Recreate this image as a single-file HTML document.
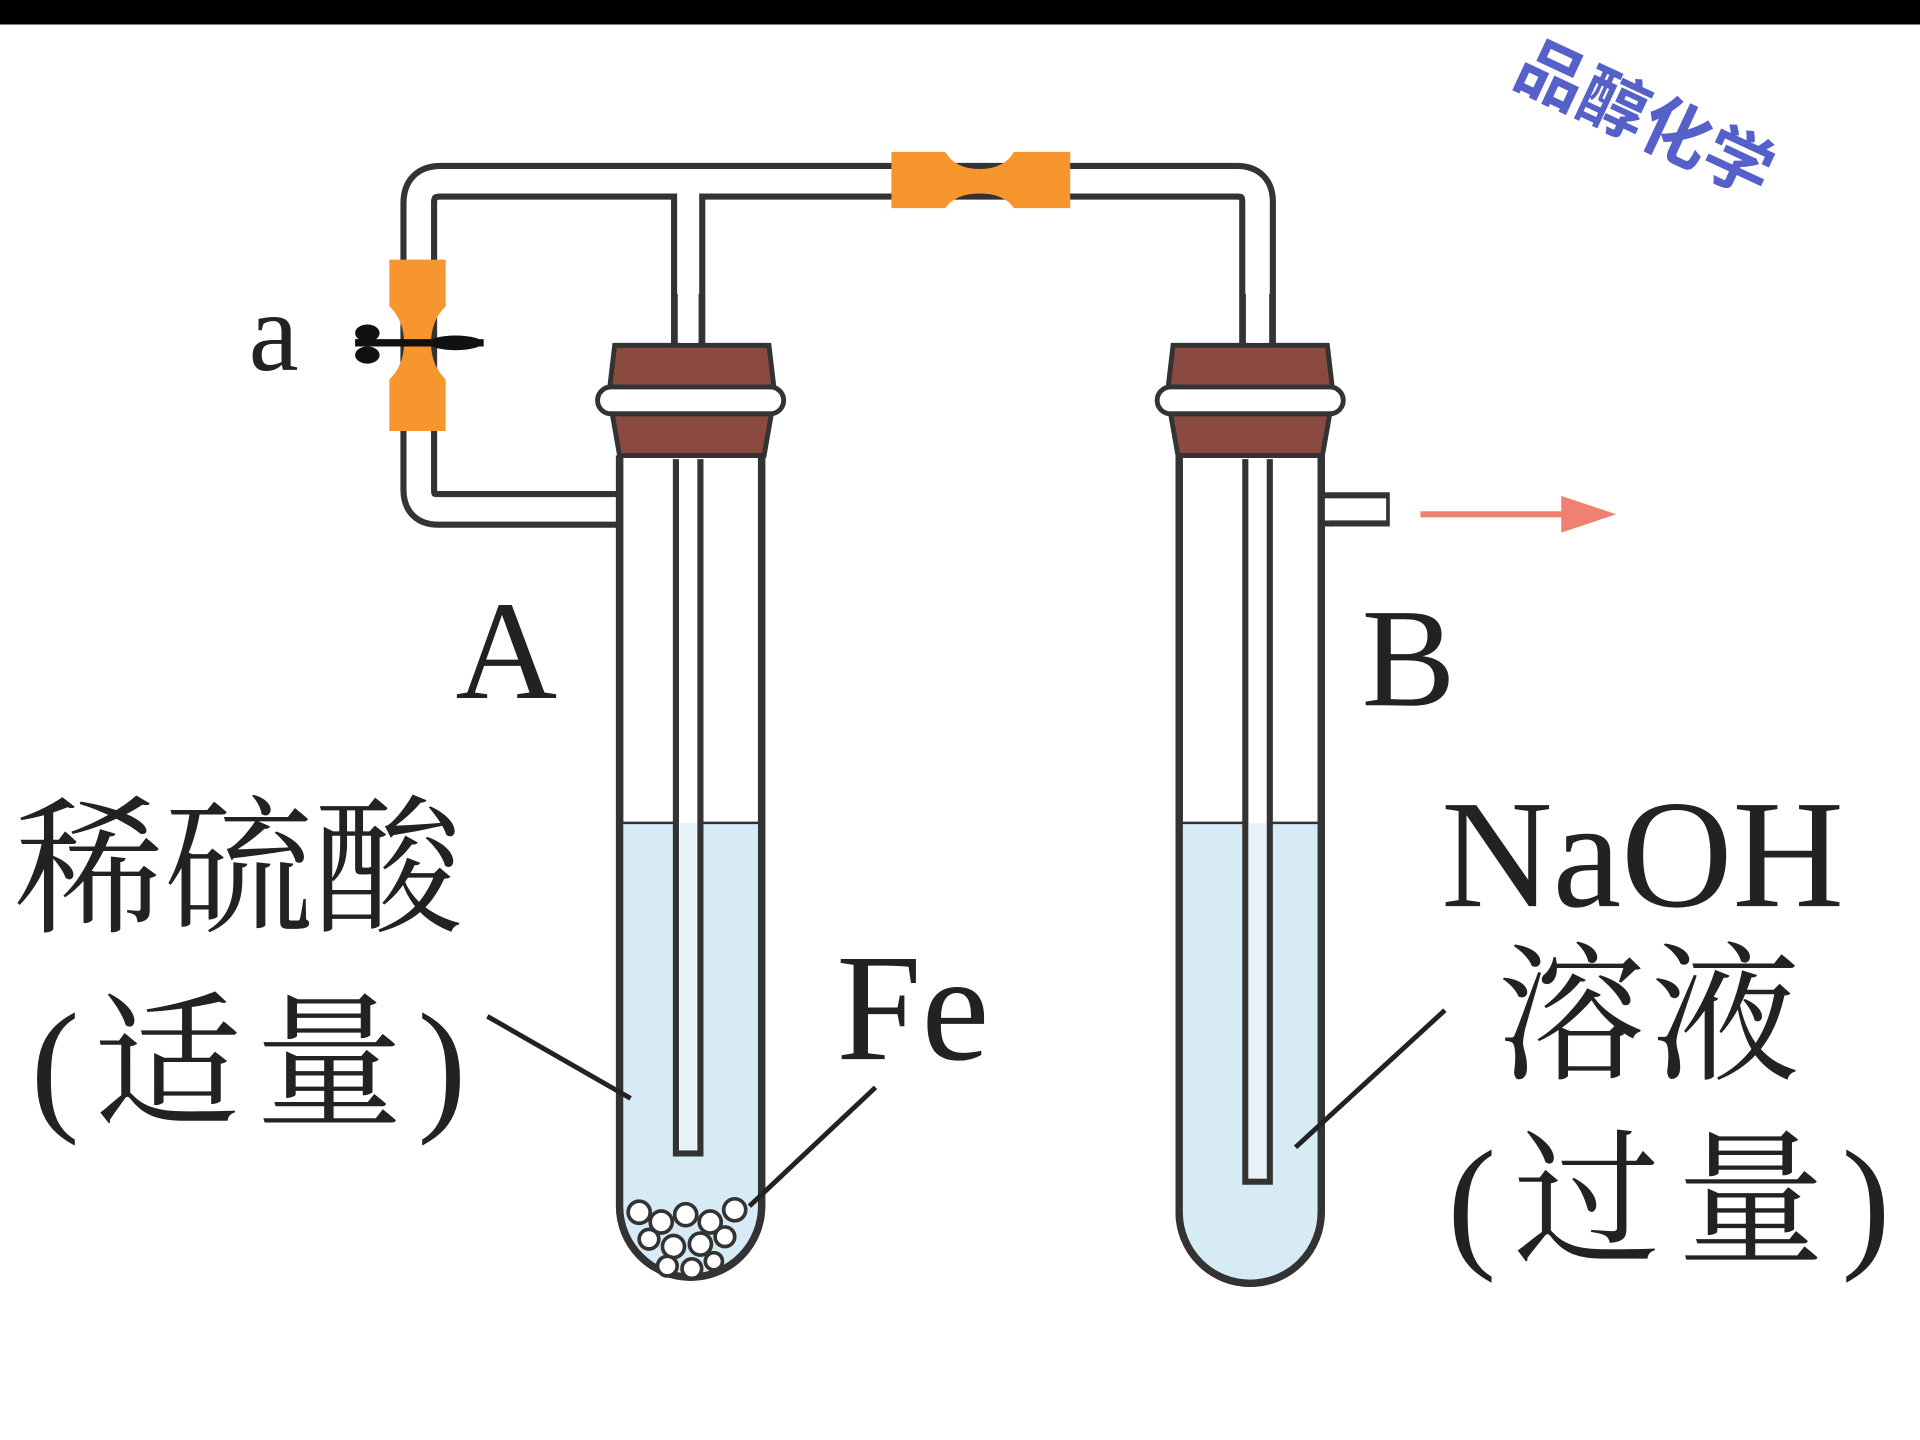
<!DOCTYPE html>
<html><head><meta charset="utf-8"><style>
html,body{margin:0;padding:0;background:#fff;}
svg{display:block;width:1920px;height:1440px;}
.t{font-family:"Liberation Serif","Noto Serif CJK SC",serif;fill:#222;}
.c{font-family:"Liberation Serif","Noto Serif CJK SC","Noto Sans CJK SC",serif;fill:#222;}
</style></head><body>
<svg viewBox="0 0 1568 1176" preserveAspectRatio="none" xmlns="http://www.w3.org/2000/svg">
<rect x="0" y="0" width="1568" height="20" fill="#000"/>
<g fill="none" stroke-linejoin="round" stroke-linecap="butt">
 <path d="M1027 965 L1027 165 Q1027 148 1010 148 L360 148 Q342 148 342 166 L342 400 Q342 416 358 416 L510 416" stroke="#333" stroke-width="30"/>
 <path d="M562 148 L562 942" stroke="#333" stroke-width="28"/>
 <path d="M1027 965 L1027 165 Q1027 148 1010 148 L360 148 Q342 148 342 166 L342 400 Q342 416 358 416 L512 416" stroke="#fff" stroke-width="20"/>
 <path d="M562 150 L562 940" stroke="#fff" stroke-width="18"/>
 <path d="M1080 416 L1135 416" stroke="#333" stroke-width="28"/>
 <path d="M1078 416 L1132 416" stroke="#fff" stroke-width="18"/>
</g>
<path d="M506 372 L506 985 A58 58 0 0 0 622 985 L622 372" fill="#fff" stroke="#333" stroke-width="6"/>
<path d="M508 672 L620 672 L620 985 A56 56 0 0 1 508 985 Z" fill="#d6ebf5"/>
<line x1="508" y1="672" x2="620" y2="672" stroke="#333" stroke-width="2"/>
<path d="M506 372 L506 985 A58 58 0 0 0 622 985 L622 372" fill="none" stroke="#333" stroke-width="6"/>
<path d="M552 375 L552 942 L572 942 L572 375" fill="#fff" stroke="#333" stroke-width="5"/>
<rect x="555" y="672" width="14" height="267" fill="#e8f3f9"/>
<g fill="#fff" stroke="#333" stroke-width="3">
<circle cx="522" cy="990" r="9"/><circle cx="540" cy="998" r="9"/><circle cx="560" cy="992" r="9"/><circle cx="580" cy="998" r="9"/><circle cx="600" cy="988" r="9"/>
<circle cx="530" cy="1012" r="8"/><circle cx="550" cy="1018" r="9"/><circle cx="572" cy="1016" r="9"/><circle cx="592" cy="1010" r="8"/>
<circle cx="545" cy="1034" r="8"/><circle cx="565" cy="1036" r="8"/><circle cx="583" cy="1030" r="7"/>
</g>
<path d="M963 372 L963 990 A58 58 0 0 0 1079 990 L1079 372" fill="#fff" stroke="#333" stroke-width="6"/>
<path d="M965 672 L1077 672 L1077 990 A56 56 0 0 1 965 990 Z" fill="#d6ebf5"/>
<line x1="965" y1="672" x2="1077" y2="672" stroke="#333" stroke-width="2"/>
<path d="M963 372 L963 990 A58 58 0 0 0 1079 990 L1079 372" fill="none" stroke="#333" stroke-width="6"/>
<path d="M1017 375 L1017 965 L1037 965 L1037 375" fill="#fff" stroke="#333" stroke-width="5"/>
<rect x="1020" y="672" width="14" height="290" fill="#e8f3f9"/>
<rect x="1082" y="407" width="4" height="18" fill="#fff"/>
<g stroke="#333" stroke-width="4">
 <path d="M502 282 L628 282 L632 316 L498 316 Z" fill="#8a4a40"/>
 <rect x="488" y="316" width="152" height="22" rx="11" fill="#fff"/>
 <path d="M500 338 L630 338 L624 372 L506 372 Z" fill="#8a4a40"/>
 <path d="M958 282 L1084 282 L1088 316 L954 316 Z" fill="#8a4a40"/>
 <rect x="945" y="316" width="152" height="22" rx="11" fill="#fff"/>
 <path d="M956 338 L1086 338 L1080 372 L962 372 Z" fill="#8a4a40"/>
</g>
<rect x="555" y="240" width="14" height="40" fill="#fff"/>
<line x1="551" y1="240" x2="551" y2="282" stroke="#333" stroke-width="5"/>
<line x1="573" y1="240" x2="573" y2="282" stroke="#333" stroke-width="5"/>
<rect x="1020" y="240" width="14" height="40" fill="#fff"/>
<line x1="1015" y1="240" x2="1015" y2="282" stroke="#333" stroke-width="5"/>
<line x1="1039" y1="240" x2="1039" y2="282" stroke="#333" stroke-width="5"/>
<path d="M728 124 L772 124 Q780 138 800 138 Q820 138 828 124 L874 124 L874 170 L828 170 Q820 158 800 158 Q780 158 772 170 L728 170 Z" fill="#f7962e"/>
<path d="M318 212 L364 212 L364 250 Q352 262 352 280 Q352 298 364 310 L364 352 L318 352 L318 310 Q330 298 330 280 Q330 262 318 250 Z" fill="#f7962e"/>
<path d="M290 280 L395 280" stroke="#111" stroke-width="6"/>
<ellipse cx="300" cy="272" rx="10" ry="7" fill="#111"/>
<ellipse cx="300" cy="290" rx="10" ry="7" fill="#111"/>
<ellipse cx="372" cy="280" rx="22" ry="6" fill="#111"/>
<line x1="1160" y1="420" x2="1290" y2="420" stroke="#f08070" stroke-width="5"/>
<path d="M1275 405 L1320 420 L1275 435 Z" fill="#f08070"/>
<g stroke="#222" stroke-width="4">
<line x1="398" y1="830" x2="515" y2="897"/>
<line x1="715" y1="888" x2="612" y2="985"/>
<line x1="1180" y1="825" x2="1058" y2="937"/>
</g>
<text class="t" x="203" y="302" font-size="92">a</text>
<text class="t" x="372" y="570" font-size="115">A</text>
<text class="t" x="1112" y="576" font-size="115">B</text>
<text class="c" x="12" y="752" font-size="122" letter-spacing="0">稀硫酸</text>
<text class="c" x="25" y="910" font-size="120" letter-spacing="12">(适量)</text>
<text class="t" x="683" y="865" font-size="125">Fe</text>
<text class="t" x="1177" y="740" font-size="126">NaOH</text>
<text class="c" x="1222" y="872" font-size="122" letter-spacing="4">溶液</text>
<text class="c" x="1182" y="1022" font-size="120" letter-spacing="14">(过量)</text>
<text x="1212" y="115" font-size="56" font-weight="bold" fill="#5560c8" transform="rotate(25 1330 140)" font-family="'Noto Sans CJK SC','WenQuanYi Zen Hei',sans-serif">品醇化学</text>
</svg>
</body></html>
